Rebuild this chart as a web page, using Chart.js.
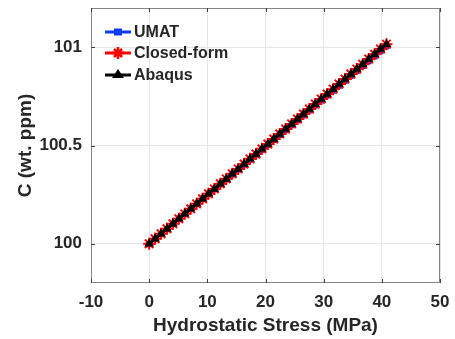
<!DOCTYPE html>
<html>
<head>
<meta charset="utf-8">
<script src="https://cdn.jsdelivr.net/npm/chart.js@4.4.1/dist/chart.umd.min.js"></script>
<style>
html,body{margin:0;padding:0;background:#fff;}
canvas{display:block;}
</style>
</head>
<body>
<canvas id="c" width="455" height="339"></canvas>
<script>
const stress = [0, 1.02, 2.04, 3.06, 4.08, 5.10, 6.12, 7.14, 8.16, 9.18, 10.20, 11.22, 12.24, 13.26, 14.28, 15.30, 16.32, 17.34, 18.36, 19.38, 20.40, 21.42, 22.44, 23.46, 24.48, 25.50, 26.52, 27.54, 28.56, 29.58, 30.60, 31.62, 32.64, 33.66, 34.68, 35.70, 36.72, 37.74, 38.76, 39.78, 40.80];
const umat = [100.000, 100.025, 100.050, 100.075, 100.100, 100.125, 100.151, 100.176, 100.201, 100.226, 100.251, 100.276, 100.301, 100.326, 100.351, 100.376, 100.401, 100.427, 100.452, 100.477, 100.502, 100.527, 100.552, 100.577, 100.602, 100.627, 100.652, 100.677, 100.703, 100.728, 100.753, 100.778, 100.803, 100.828, 100.853, 100.878, 100.903, 100.928, 100.953, 100.979, 101.004];
const closedForm = [100.000, 100.025, 100.051, 100.076, 100.102, 100.127, 100.152, 100.178, 100.203, 100.229, 100.254, 100.279, 100.305, 100.330, 100.356, 100.381, 100.406, 100.432, 100.457, 100.483, 100.508, 100.533, 100.559, 100.584, 100.610, 100.635, 100.660, 100.686, 100.711, 100.737, 100.762, 100.787, 100.813, 100.838, 100.864, 100.889, 100.914, 100.940, 100.965, 100.991, 101.016];
const abaqus = [100.000, 100.025, 100.051, 100.076, 100.102, 100.127, 100.152, 100.178, 100.203, 100.229, 100.254, 100.279, 100.305, 100.330, 100.356, 100.381, 100.406, 100.432, 100.457, 100.483, 100.508, 100.533, 100.559, 100.584, 100.610, 100.635, 100.660, 100.686, 100.711, 100.737, 100.762, 100.787, 100.813, 100.838, 100.864, 100.889, 100.914, 100.940, 100.965, 100.991, 101.016];
const xTicks = [-10, 0, 10, 20, 30, 40, 50];
const yTicks = [100, 100.5, 101];
const yTickLabels = ['100', '100.5', '101'];
const seriesNames = ['UMAT', 'Closed-form', 'Abaqus'];

const BLUE = '#0a3cff', RED = '#ff0000', BLACK = '#000000';
const TXT = '#262626';
const FONT = 'Liberation Sans, Arial, sans-serif';

function pts(ys){ return stress.map((x,i)=>({x:x, y:ys[i]})); }

const frame = {
  id: 'frame',
  afterDatasetsDraw(chart){
    const {ctx, chartArea:a, scales:{x, y}} = chart;
    ctx.save();
    ctx.strokeStyle = '#858585';
    ctx.lineWidth = 1;
    ctx.strokeRect(a.left+0.5, a.top+0.5, a.right-a.left-1, a.bottom-a.top-1);
    ctx.strokeStyle = '#404040';
    ctx.beginPath();
    xTicks.forEach(v=>{
      const px = Math.round(x.getPixelForValue(v))+0.5;
      ctx.moveTo(px, a.bottom); ctx.lineTo(px, a.bottom-4);
      ctx.moveTo(px, a.top); ctx.lineTo(px, a.top+4);
    });
    yTicks.forEach(v=>{
      const py = Math.round(y.getPixelForValue(v))+0.5;
      ctx.moveTo(a.left, py); ctx.lineTo(a.left+4, py);
      ctx.moveTo(a.right, py); ctx.lineTo(a.right-4, py);
    });
    ctx.stroke();

    const rows = [32, 53, 75];
    const colors = [BLUE, RED, BLACK];
    ctx.font = 'bold 16px ' + FONT;
    ctx.textBaseline = 'middle';
    ctx.textAlign = 'left';
    rows.forEach((ry, i)=>{
      ctx.strokeStyle = colors[i];
      ctx.fillStyle = colors[i];
      ctx.lineWidth = 3;
      ctx.beginPath();
      ctx.moveTo(105, ry); ctx.lineTo(131, ry);
      ctx.stroke();
      const cx = 118;
      if (i === 0) {
        ctx.fillRect(cx-4, ry-3.5, 8, 7);
      } else if (i === 1) {
        ctx.lineWidth = 2.5;
        ctx.beginPath();
        ctx.moveTo(cx-6, ry); ctx.lineTo(cx+6, ry);
        ctx.moveTo(cx, ry-6); ctx.lineTo(cx, ry+6);
        ctx.moveTo(cx-4, ry-4); ctx.lineTo(cx+4, ry+4);
        ctx.moveTo(cx-4, ry+4); ctx.lineTo(cx+4, ry-4);
        ctx.stroke();
      } else {
        ctx.beginPath();
        ctx.moveTo(cx, ry-6); ctx.lineTo(cx+6, ry+3); ctx.lineTo(cx-6, ry+3); ctx.closePath();
        ctx.fill();
      }
      ctx.fillStyle = TXT;
      ctx.fillText(seriesNames[i], 134, ry+1);
    });
    ctx.restore();
  }
};

new Chart(document.getElementById('c'), {
  type: 'scatter',
  data: {
    datasets: [
      {label: seriesNames[0], data: pts(umat), showLine: true, borderColor: BLUE, backgroundColor: BLUE, borderWidth: 3, pointStyle: 'rect', pointRadius: 4, pointBorderWidth: 0, order: 3},
      {label: seriesNames[1], data: pts(closedForm), showLine: true, borderColor: RED, backgroundColor: RED, borderWidth: 3, pointStyle: 'star', pointRadius: 6, pointBorderWidth: 2, order: 2},
      {label: seriesNames[2], data: pts(abaqus), showLine: true, borderColor: BLACK, backgroundColor: BLACK, borderWidth: 3, pointStyle: 'triangle', pointRadius: 5.5, pointBorderWidth: 0, order: 1}
    ]
  },
  options: {
    responsive: false,
    animation: false,
    devicePixelRatio: 1,
    layout: {padding: {left: 0, top: 7, right: 15, bottom: 0}},
    plugins: {legend: {display: false}, tooltip: {enabled: false}},
    scales: {
      x: {
        type: 'linear', min: -10, max: 50,
        afterFit(s){ s.height = 56; s.paddingLeft = 0; s.paddingRight = 0; },
        afterBuildTicks(s){ s.ticks = xTicks.map(v=>({value:v})); },
        grid: {color: '#e6e6e6', drawTicks: false, lineWidth: 1},
        border: {display: false},
        ticks: {color: TXT, font: {family: FONT, size: 17, weight: 'bold'}, padding: 9, maxRotation: 0, callback: v => String(v)},
        title: {display: true, text: 'Hydrostatic Stress (MPa)', color: TXT, font: {family: FONT, size: 19, weight: 'bold'}, padding: {top: 0, bottom: 2}}
      },
      y: {
        type: 'linear', min: 99.8, max: 101.2,
        afterFit(s){ s.width = 91; s.paddingTop = 0; s.paddingBottom = 0; },
        afterBuildTicks(s){ s.ticks = yTicks.map(v=>({value:v})); },
        grid: {color: '#e6e6e6', drawTicks: false, lineWidth: 1},
        border: {display: false},
        ticks: {color: TXT, font: {family: FONT, size: 17, weight: 'bold'}, padding: 9, callback: (v) => { const i = yTicks.indexOf(v); return i >= 0 ? yTickLabels[i] : ''; }},
        title: {display: true, text: 'C (wt. ppm)', color: TXT, font: {family: FONT, size: 19, weight: 'bold'}, padding: {top: 14, bottom: 0}}
      }
    }
  },
  plugins: [frame]
});
</script>
</body>
</html>
